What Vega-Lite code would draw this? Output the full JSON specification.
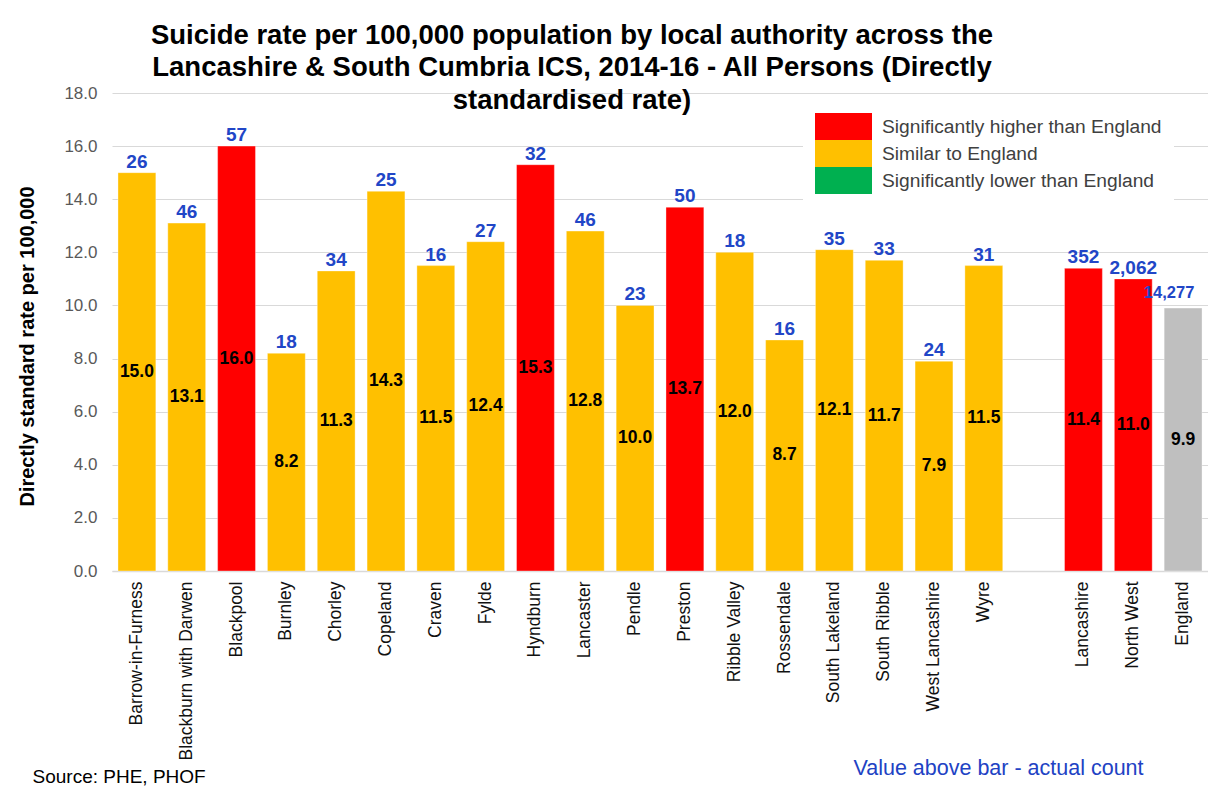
{
  "$schema": "https://vega.github.io/schema/vega-lite/v6.json",
  "width": 1096,
  "height": 478,
  "autosize": {"type": "none"},
  "padding": {"left": 112, "top": 93, "right": 0, "bottom": 216},
  "background": "white",
  "config": {
    "font": "Liberation Sans",
    "view": {"stroke": null}
  },
  "title": {
    "text": ["Suicide rate per 100,000 population by local authority across the", "Lancashire & South Cumbria ICS, 2014-16 - All Persons (Directly", "standardised rate)"],
    "fontSize": 27.5,
    "fontWeight": "bold",
    "font": "Liberation Sans",
    "color": "#000000",
    "lineHeight": 32.5,
    "anchor": "middle",
    "dx": -88,
    "offset": -30
  },
  "data": {
    "values": [
      {"area": "Barrow-in-Furness", "rate": 15.0, "count": 26, "status": "Similar to England"},
      {"area": "Blackburn with Darwen", "rate": 13.1, "count": 46, "status": "Similar to England"},
      {"area": "Blackpool", "rate": 16.0, "count": 57, "status": "Significantly higher than England"},
      {"area": "Burnley", "rate": 8.2, "count": 18, "status": "Similar to England"},
      {"area": "Chorley", "rate": 11.3, "count": 34, "status": "Similar to England"},
      {"area": "Copeland", "rate": 14.3, "count": 25, "status": "Similar to England"},
      {"area": "Craven", "rate": 11.5, "count": 16, "status": "Similar to England"},
      {"area": "Fylde", "rate": 12.4, "count": 27, "status": "Similar to England"},
      {"area": "Hyndburn", "rate": 15.3, "count": 32, "status": "Significantly higher than England"},
      {"area": "Lancaster", "rate": 12.8, "count": 46, "status": "Similar to England"},
      {"area": "Pendle", "rate": 10.0, "count": 23, "status": "Similar to England"},
      {"area": "Preston", "rate": 13.7, "count": 50, "status": "Significantly higher than England"},
      {"area": "Ribble Valley", "rate": 12.0, "count": 18, "status": "Similar to England"},
      {"area": "Rossendale", "rate": 8.7, "count": 16, "status": "Similar to England"},
      {"area": "South Lakeland", "rate": 12.1, "count": 35, "status": "Similar to England"},
      {"area": "South Ribble", "rate": 11.7, "count": 33, "status": "Similar to England"},
      {"area": "West Lancashire", "rate": 7.9, "count": 24, "status": "Similar to England"},
      {"area": "Wyre", "rate": 11.5, "count": 31, "status": "Similar to England"},
      {"area": "Lancashire", "rate": 11.4, "count": 352, "status": "Significantly higher than England"},
      {"area": "North West", "rate": 11.0, "count": 2062, "status": "Significantly higher than England"},
      {"area": "England", "rate": 9.9, "count": 14277, "status": "England"}
    ]
  },
  "resolve": {"axis": {"x": "independent"}},
  "layer": [
    {
      "mark": {"type": "bar", "stroke": "#ffffff", "strokeOpacity": 0.35, "strokeWidth": 1},
      "encoding": {
        "x": {
          "field": "area", "type": "nominal",
          "scale": {
            "domain": ["Barrow-in-Furness", "Blackburn with Darwen", "Blackpool", "Burnley", "Chorley", "Copeland", "Craven", "Fylde", "Hyndburn", "Lancaster", "Pendle", "Preston", "Ribble Valley", "Rossendale", "South Lakeland", "South Ribble", "West Lancashire", "Wyre", " ", "Lancashire", "North West", "England"],
            "paddingInner": 0.24, "paddingOuter": 0.12
          },
          "axis": {
            "orient": "bottom",
            "labelAngle": -90, "labelAlign": "right", "labelBaseline": "middle",
            "labelFontSize": 17.5, "labelColor": "#111111", "labelPadding": 10, "labelLimit": 300,
            "ticks": false, "domainColor": "#D9D9D9", "domainWidth": 1.5, "grid": false,
            "title": "Value above bar - actual count",
            "titleFontSize": 21.5, "titleFontWeight": "normal", "titleColor": "#2142C4",
            "titleX": 886, "titleY": 197, "titleAlign": "center", "titleBaseline": "middle", "titleAnchor": null
          }
        },
        "y": {
          "field": "rate", "type": "quantitative",
          "scale": {"domain": [0, 18], "nice": false},
          "axis": {
            "values": [0, 2, 4, 6, 8, 10, 12, 14, 16, 18],
            "format": ".1f",
            "labelFontSize": 17, "labelColor": "#595959", "labelPadding": 15,
            "ticks": false, "domain": false,
            "gridColor": "#D9D9D9", "gridWidth": 1,
            "title": "Directly standard rate per 100,000",
            "titleFontSize": 20, "titleFontWeight": "bold", "titleColor": "#000000",
            "titleX": -85, "titleY": 253, "titleBaseline": "middle", "titleAlign": "center", "titleAnchor": null
          }
        },
        "color": {
          "field": "status", "type": "nominal",
          "scale": {
            "domain": ["Significantly higher than England", "Similar to England", "Significantly lower than England", "England"],
            "range": ["#FF0000", "#FFC000", "#00B050", "#BFBFBF"]
          },
          "legend": {
            "values": ["Significantly higher than England", "Similar to England", "Significantly lower than England"],
            "title": null,
            "orient": "none", "legendX": 691, "legendY": 8,
            "symbolType": "M-1,-0.48H1V0.48H-1Z",
            "symbolSize": 3249, "symbolStrokeWidth": 0, "symbolOpacity": 1,
            "clipHeight": 27,
            "rowPadding": 0,
            "labelFontSize": 19.2, "labelColor": "#404040", "labelOffset": 10, "labelLimit": 400,
            "fillColor": "#ffffff", "padding": 12
          }
        }
      }
    },
    {
      "transform": [{"calculate": "datum.rate / 2", "as": "mid"}],
      "mark": {"type": "text", "fontSize": 17.5, "fontWeight": "bold", "color": "#000000", "baseline": "middle"},
      "encoding": {
        "x": {"field": "area", "type": "nominal", "axis": null},
        "y": {"field": "mid", "type": "quantitative"},
        "text": {"field": "rate", "type": "quantitative", "format": ".1f"}
      }
    },
    {
      "transform": [{"filter": "datum.area !== 'England'"}],
      "mark": {"type": "text", "fontWeight": "bold", "fontSize": 19, "color": "#2146C7", "baseline": "alphabetic", "dy": -5},
      "encoding": {
        "x": {
          "field": "area", "type": "nominal",
          "axis": {
            "orient": "bottom", "labels": false, "ticks": false, "domain": false, "grid": false,
            "title": "Source: PHE, PHOF",
            "titleFontSize": 19, "titleFontWeight": "normal", "titleColor": "#000000",
            "titleX": -80, "titleY": 205, "titleAlign": "left", "titleBaseline": "middle", "titleAnchor": null
          }
        },
        "y": {"field": "rate", "type": "quantitative"},
        "text": {"field": "count", "type": "quantitative", "format": ","}
      }
    },
    {
      "transform": [{"filter": "datum.area === 'England'"}],
      "mark": {"type": "text", "fontWeight": "bold", "fontSize": 16.5, "color": "#2146C7", "baseline": "alphabetic", "dy": -10, "dx": -14},
      "encoding": {
        "x": {"field": "area", "type": "nominal", "axis": null},
        "y": {"field": "rate", "type": "quantitative"},
        "text": {"field": "count", "type": "quantitative", "format": ","}
      }
    }
  ]
}
